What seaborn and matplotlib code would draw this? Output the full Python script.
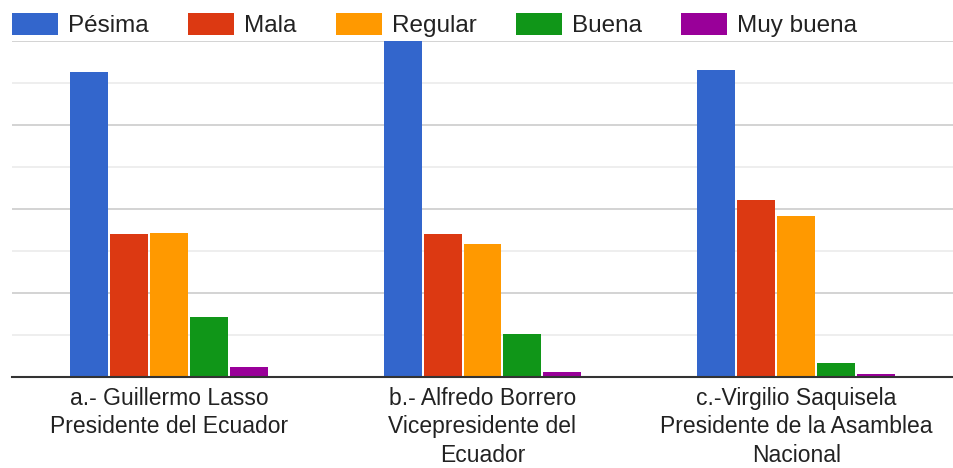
import matplotlib
matplotlib.use("Agg")
import matplotlib.pyplot as plt
from matplotlib.patches import Patch
import seaborn as sns
import pandas as pd

# Datos
grupos = [
    "a.- Guillermo Lasso\nPresidente del Ecuador",
    "b.- Alfredo Borrero\nVicepresidente del\nEcuador",
    "c.-Virgilio Saquisela\nPresidente de la Asamblea\nNacional",
]
categorias = ["Pésima", "Mala", "Regular", "Buena", "Muy buena"]
pesima = [72.7, 80.0, 73.1]
mala = [34.0, 34.0, 42.1]
regular = [34.4, 31.7, 38.3]
buena = [14.4, 10.2, 3.4]
muy_buena = [2.5, 1.1, 0.7]

colores = ["#3366cc", "#dc3912", "#ff9900", "#109618", "#990099"]

series = [pesima, mala, regular, buena, muy_buena]
rows = []
for cat, vals in zip(categorias, series):
    for g, v in zip(grupos, vals):
        rows.append({"grupo": g, "calificacion": cat, "valor": v})
df = pd.DataFrame(rows)

sns.set_theme(style="white")
plt.rcParams["font.family"] = ["Liberation Sans", "DejaVu Sans"]

fig = plt.figure(figsize=(9.54, 4.68), dpi=100)
ax = fig.add_axes([12 / 954, 1 - 377 / 468, 941 / 954, 336 / 468])

sns.barplot(
    data=df, x="grupo", y="valor", hue="calificacion",
    order=grupos, hue_order=categorias, palette=colores,
    width=0.637, gap=0.05, saturation=1, linewidth=0,
    legend=False, ax=ax,
)

# Líneas de cuadrícula (mayores y menores)
ax.set_ylim(0, 80)
ax.set_yticks([0, 20, 40, 60, 80])
ax.set_yticks([10, 30, 50, 70], minor=True)
ax.grid(axis="y", which="major", color="#cccccc", linewidth=1.2)
ax.grid(axis="y", which="minor", color="#ebebeb", linewidth=1.2)
ax.set_axisbelow(True)
ax.tick_params(axis="y", which="both", left=False, labelleft=False)
ax.tick_params(axis="x", bottom=False, pad=1, labelsize=16.5, labelcolor="#222222")
for lab in ax.get_xticklabels():
    lab.set_linespacing(1.3)
    lab.set_verticalalignment("top")
ax.set_xlabel("")
ax.set_ylabel("")
for s in ["top", "right", "left"]:
    ax.spines[s].set_visible(False)
ax.spines["bottom"].set_color("#333333")
ax.spines["bottom"].set_linewidth(1.5)

# Leyenda superior
handles = [Patch(facecolor=c, edgecolor="none") for c in colores]
fig.legend(
    handles, categorias, loc="upper left",
    bbox_to_anchor=(12 / 954, 1 - 13 / 468), ncol=5, frameon=False,
    fontsize=17.5, labelcolor="#222222", handlelength=1.9, handleheight=1.0,
    handletextpad=0.42, columnspacing=1.6, borderpad=0, borderaxespad=0,
)

fig.savefig("out.png", dpi=100)
plt.close(fig)
